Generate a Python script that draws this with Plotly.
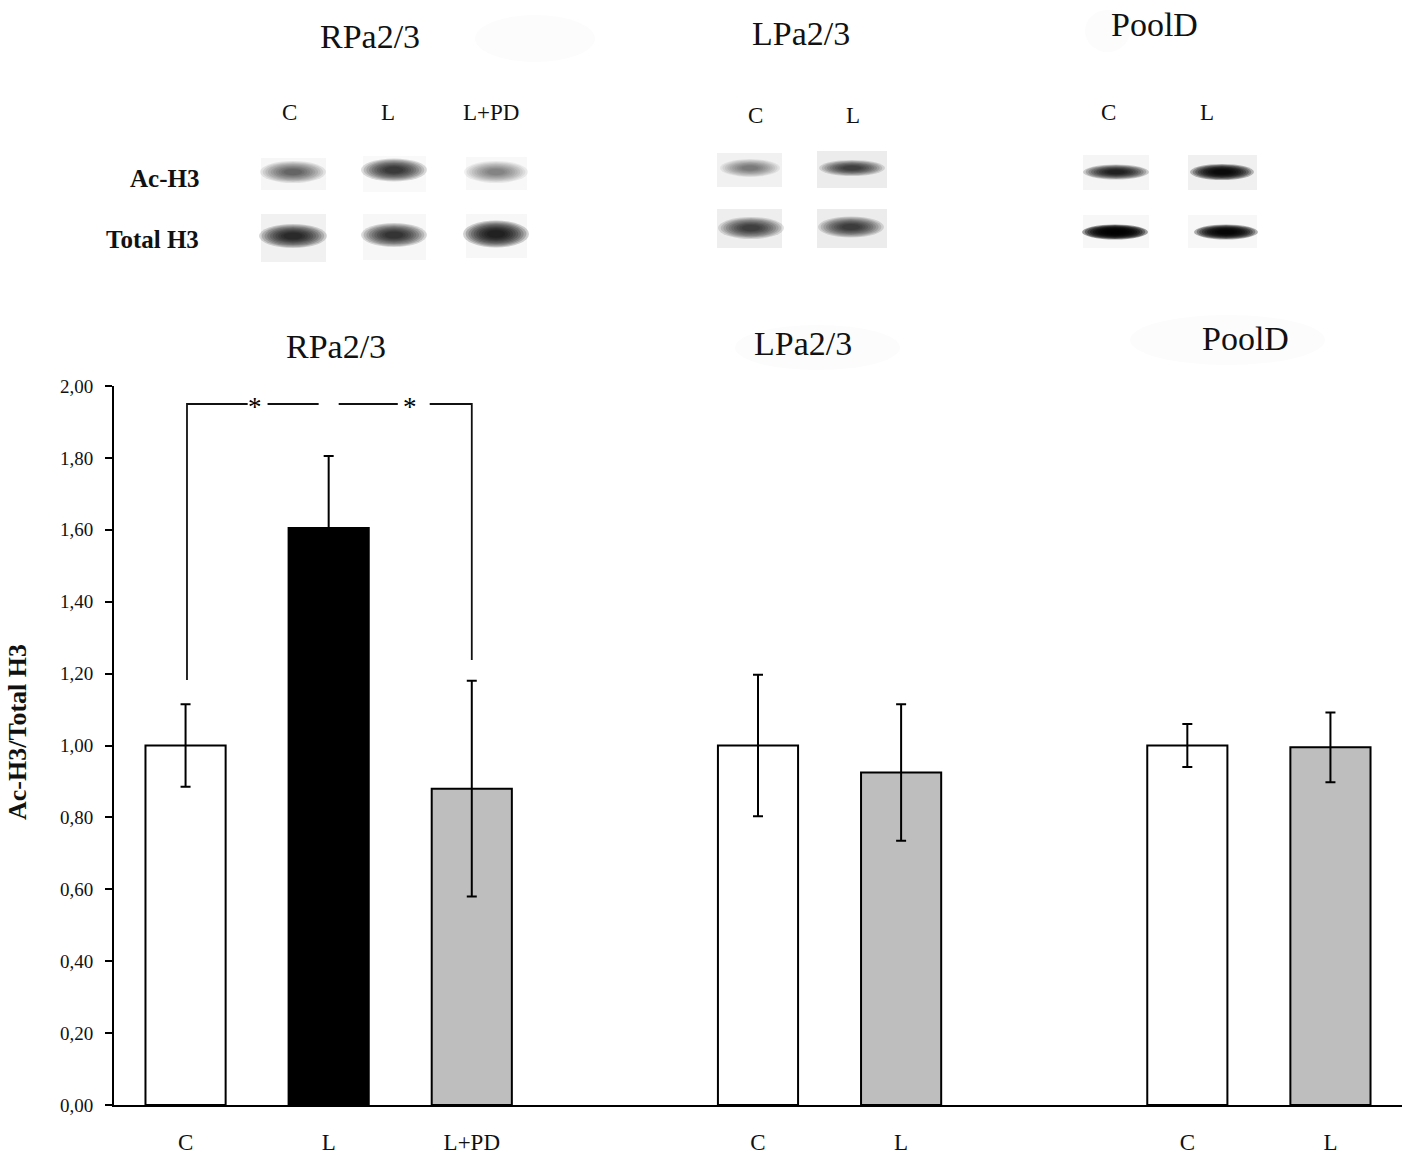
"""Ac-H3 / Total H3 western blots and bar chart for RPa2/3, LPa2/3 and PoolD."""

import plotly.graph_objects as go

W, H = 1405, 1165
SERIF = "Liberation Serif"

# --- bar data ------------------------------------------------------------

slots = [0, 1, 2, 4, 5, 7, 8]
labels = ["C", "L", "L+PD", "C", "L", "C", "L"]
values = [1.00, 1.605, 0.88, 1.00, 0.925, 1.00, 0.995]
errors = [0.115, 0.20, 0.30, 0.197, 0.19, 0.06, 0.097]
colors = ["white", "black", "#bebebe", "white", "#bebebe", "white", "#bebebe"]

# significance bracket, broken where the stars sit
bracket_x = [0.01, 0.01, 0.434, None, 0.573, 0.93, None, 1.07, 1.483, None, 1.706, 2.0, 2.0]
bracket_y = [1.182, 1.95, 1.95, None, 1.95, 1.95, None, 1.95, 1.95, None, 1.95, 1.95, 1.238]
star_x = [0.484, 1.566]

# --- blot data (pixels) --------------------------------------------------

# x0, x1, y0, y1, grey
tiles = [
    (261, 326, 158, 190, "#f6f6f6"), (363, 426, 156, 192, "#f9f9f9"), (466, 527, 157, 190, "#f8f8f8"),
    (261, 326, 214, 262, "#f1f1f1"), (363, 426, 214, 260, "#f7f7f7"), (466, 527, 214, 258, "#f7f7f7"),
    (717, 782, 153, 187, "#f1f1f1"), (817, 887, 151, 188, "#ececec"),
    (717, 782, 209, 248, "#eeeeee"), (817, 887, 209, 248, "#ececec"),
    (1083, 1149, 155, 190, "#f5f5f5"), (1188, 1257, 155, 190, "#f0f0f0"),
    (1083, 1149, 215, 248, "#f7f7f7"), (1188, 1257, 215, 248, "#f7f7f7"),
]
# centre x, centre y, width, height, darkness
bands = [
    (293, 172, 66, 22, 0.58), (394, 170, 66, 23, 0.76), (496, 172, 64, 22, 0.45),
    (293, 236, 68, 24, 0.82), (394, 235, 66, 24, 0.78), (496, 234, 66, 27, 0.86),
    (750, 168, 60, 18, 0.48), (852, 168, 66, 16, 0.72),
    (751, 228, 66, 22, 0.72), (851, 227, 66, 21, 0.74),
    (1116, 172, 66, 15, 0.86), (1222, 172, 64, 16, 0.95),
    (1115, 232, 66, 15, 0.99), (1226, 232, 64, 15, 0.97),
]
# pale smudges left around the pasted titles: x0, x1, y0, y1
smudges = [(475, 595, 15, 62), (735, 900, 325, 370), (1130, 1325, 315, 365), (1085, 1130, 10, 52)]

# text, x, y, size
texts = [
    ("RPa2/3", 370, 37, 34), ("LPa2/3", 801, 33, 34), ("PoolD", 1154, 25, 34),
    ("RPa2/3", 336, 346, 34), ("LPa2/3", 803, 343, 34), ("PoolD", 1245, 338, 34),
    ("C", 289, 113, 23), ("L", 388, 113, 23), ("L+PD", 491, 113, 23),
    ("C", 755, 115, 23), ("L", 853, 115, 23),
    ("C", 1108, 113, 23), ("L", 1207, 113, 23),
]
row_labels = [("Ac-H3", 201, 179), ("Total H3", 201, 239)]


def px(x):
    return x / W


def py(y):
    return 1 - y / H


def blot_shapes():
    shapes = []
    for x0, x1, y0, y1 in smudges:
        shapes.append(dict(type="circle", xref="paper", yref="paper", layer="below",
                           x0=px(x0), x1=px(x1), y0=py(y0), y1=py(y1),
                           fillcolor="#fcfcfc", line_width=0))
    for x0, x1, y0, y1, grey in tiles:
        shapes.append(dict(type="rect", xref="paper", yref="paper", layer="below",
                           x0=px(x0), x1=px(x1), y0=py(y0), y1=py(y1),
                           fillcolor=grey, line_width=0))
    # stacked see-through ellipses fake the soft edge of a band
    scales = [1.0, 0.92, 0.84, 0.76, 0.68, 0.6, 0.52, 0.44, 0.36, 0.28]
    for cx, cy, w, h, dark in bands:
        alpha = 1 - (1 - dark) ** (1 / len(scales))
        for s in scales:
            shapes.append(dict(type="circle", xref="paper", yref="paper", layer="below",
                               x0=px(cx - w * s / 2), x1=px(cx + w * s / 2),
                               y0=py(cy - h * s / 2), y1=py(cy + h * s / 2),
                               fillcolor=f"rgba(0,0,0,{alpha:.3f})", line_width=0))
    return shapes


def main():
    fig = go.Figure()
    fig.add_trace(go.Bar(
        x=slots, y=values, width=0.56,
        marker=dict(color=colors, line=dict(color="black", width=2)),
        error_y=dict(type="data", array=errors, visible=True,
                     color="black", thickness=2, width=5),
        showlegend=False,
    ))
    fig.add_trace(go.Scatter(
        x=bracket_x, y=bracket_y, mode="lines",
        line=dict(color="#111111", width=1.8), showlegend=False,
    ))

    annotations = []
    for text, x, y, size in texts:
        annotations.append(dict(text=text, xref="paper", yref="paper", x=px(x), y=py(y),
                                showarrow=False, xanchor="center", yanchor="middle",
                                font=dict(size=size, family=SERIF, color="#111111")))
    for text, x, y in row_labels:
        annotations.append(dict(text=f"<b>{text}</b>", xref="paper", yref="paper", x=px(x), y=py(y),
                                showarrow=False, xanchor="right", yanchor="middle",
                                font=dict(size=25, family=SERIF, color="#111111")))
    annotations.append(dict(text="<b>Ac-H3/Total H3</b>", xref="paper", yref="paper",
                            x=px(17), y=py(732), textangle=-90, showarrow=False,
                            xanchor="center", yanchor="middle",
                            font=dict(size=26, family=SERIF, color="#111111")))
    for sx in star_x:
        annotations.append(dict(text="*", x=sx, y=1.95, xref="x", yref="y", yshift=-3,
                                showarrow=False, font=dict(size=27, family=SERIF, color="black")))

    fig.update_layout(
        width=W, height=H,
        margin=dict(l=0, r=0, t=0, b=0),
        paper_bgcolor="white", plot_bgcolor="white",
        separators=",.",
        showlegend=False,
        shapes=blot_shapes(),
        annotations=annotations,
        font=dict(family=SERIF, color="#111111"),
        xaxis=dict(
            domain=[px(114), px(1402)], range=[-0.5, 8.5],
            tickmode="array", tickvals=slots, ticktext=labels,
            ticks="", showgrid=False, zeroline=False, automargin=False,
            showline=True, linecolor="black", linewidth=2,
            ticklabelstandoff=15, tickfont=dict(size=23, family=SERIF),
        ),
        yaxis=dict(
            domain=[py(1105), py(386)], range=[0, 2],
            tickmode="array", tickvals=[0, 0.2, 0.4, 0.6, 0.8, 1.0, 1.2, 1.4, 1.6, 1.8, 2.0],
            tickformat=".2f", ticks="outside", ticklen=7, tickwidth=2, tickcolor="black",
            showgrid=False, zeroline=False, automargin=False,
            showline=True, linecolor="black", linewidth=2,
            ticklabelstandoff=8, tickfont=dict(size=19, family=SERIF),
        ),
    )
    # default body margin would push the page past the window
    fig.write_html("out.html", config=dict(displayModeBar=False),
                   post_script="document.body.style.margin='0';")


if __name__ == "__main__":
    main()
